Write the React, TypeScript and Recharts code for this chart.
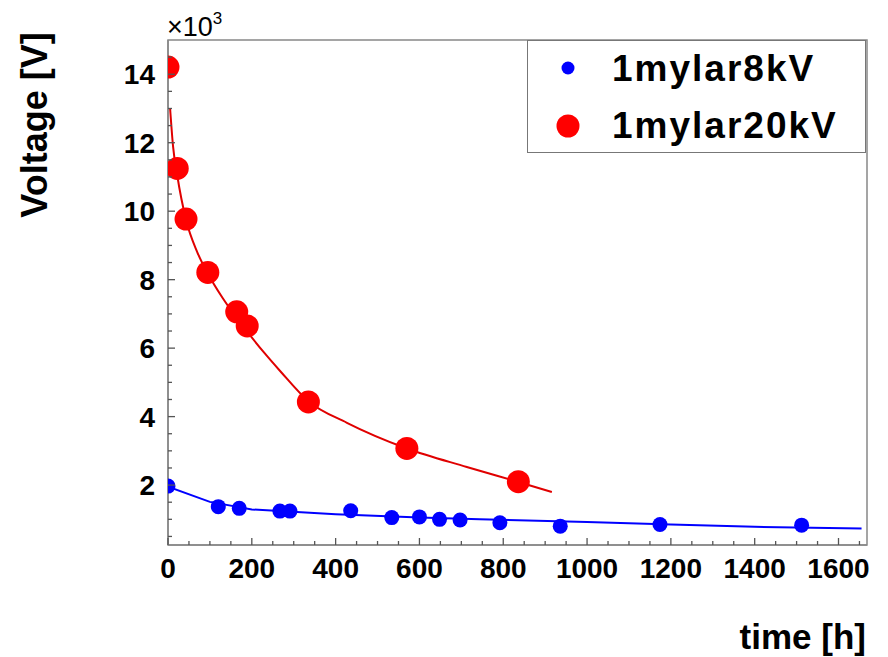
import { ComposedChart, Scatter, Line, XAxis, YAxis, ReferenceArea, Legend } from 'recharts';

// measured points
const blueTime = [0, 120, 170, 267, 291, 436, 534, 600, 648, 697, 792, 936, 1174, 1512];
const blueVolt = [1970, 1370, 1320, 1240, 1240, 1250, 1050, 1070, 1000, 980, 900, 800, 850, 830];
const redTime = [0, 22, 43, 95, 164, 189, 335, 570, 836];
const redVolt = [14210, 11250, 9770, 8210, 7060, 6650, 4430, 3070, 2100];

// fitted curves
const blueFitTime = [0, 100, 200, 400, 600, 744, 1000, 1200, 1400, 1655];
const blueFitVolt = [1950, 1510, 1290, 1150, 1050, 1000, 920, 850, 780, 730];
const redFitTime = [5, 12, 22, 43, 70, 95, 130, 164, 189, 230, 267, 335, 427, 570, 713, 836, 916];
const redFitVolt = [13000, 11900, 11050, 9750, 8800, 8180, 7470, 6880, 6480, 5860, 5340, 4450, 3820, 3070, 2530, 2090, 1800];

const xTicks = Array.from({ length: 34 }, (_, i) => i * 50);
const yTicks = Array.from({ length: 29 }, (_, i) => 500 + i * 500);

const zip = (t: number[], v: number[]) => t.map((x, i) => ({ t: x, v: v[i] }));
const bluePts = zip(blueTime, blueVolt);
const redPts = zip(redTime, redVolt);
const blueFit = zip(blueFitTime, blueFitVolt);
const redFit = zip(redFitTime, redFitVolt);

const font = '"Liberation Sans", Arial, Helvetica, sans-serif';

const XTick = ({ x, y, payload }: any) => {
  const v = payload.value;
  const major = v % 200 === 0;
  return (
    <g>
      <line x1={x} x2={x} y1={y} y2={y - (major ? 7 : 4)} stroke="#555" strokeWidth={1.3} />
      {major && (
        <text x={x} y={y + 33} textAnchor="middle" fontSize={28} fontWeight="bold" fill="#000">{v}</text>
      )}
    </g>
  );
};

const YTick = ({ x, y, payload }: any) => {
  const v = payload.value;
  const major = v % 2000 === 0;
  return (
    <g>
      <line x1={x} x2={x + (major ? 7 : 4)} y1={y} y2={y} stroke="#555" strokeWidth={1.3} />
      {major && (
        <text x={x - 13} y={y + 10} textAnchor="end" fontSize={28} fontWeight="bold" fill="#000">{v / 1000}</text>
      )}
    </g>
  );
};

const LegendBox = () => (
  <div style={{ width: 339, height: 113, border: '1.5px solid #777', boxSizing: 'border-box', background: '#fff' }}>
    <svg width={336} height={110} style={{ fontFamily: font }}>
      <circle cx={40} cy={27} r={6.5} fill="#0000ff" />
      <text x={84} y={40} fontSize={37} fontWeight="bold" letterSpacing={2} fill="#000">1mylar8kV</text>
      <circle cx={40} cy={85} r={11.5} fill="#ff0000" />
      <text x={84} y={97} fontSize={37} fontWeight="bold" letterSpacing={2} fill="#000">1mylar20kV</text>
    </svg>
  </div>
);

export default function App() {
  return (
    <div style={{ position: 'absolute', left: 0, top: 0, width: 888, height: 657, background: '#fff', fontFamily: font }}>
      <ComposedChart width={888} height={657} margin={{ top: 40, right: 21, left: 108, bottom: 82 }} style={{ fontFamily: font }}>
        <XAxis
          dataKey="t"
          type="number"
          domain={[0, 1668]}
          allowDataOverflow
          ticks={xTicks}
          interval={0}
          tick={<XTick />}
          tickLine={false}
          tickSize={0}
          tickMargin={0}
          height={30}
          axisLine={{ stroke: '#888', strokeWidth: 1.5 }}
        />
        <YAxis
          dataKey="v"
          type="number"
          domain={[250, 15000]}
          allowDataOverflow
          ticks={yTicks}
          interval={0}
          tick={<YTick />}
          tickLine={false}
          tickSize={0}
          tickMargin={0}
          width={60}
          axisLine={{ stroke: '#888', strokeWidth: 1.5 }}
        />
        <ReferenceArea x1={0} x2={1668} y1={250} y2={15000} fill="none" stroke="#888" strokeWidth={1.5} />
        <Line data={blueFit} dataKey="v" type="linear" stroke="#0000ff" strokeWidth={2} dot={false} isAnimationActive={false} legendType="none" />
        <Scatter
          data={bluePts}
          dataKey="v"
          name="1mylar8kV"
          isAnimationActive={false}
          shape={(p: any) => <circle cx={p.cx} cy={p.cy} r={7.5} fill="#0000ff" />}
        />
        <Line data={redFit} dataKey="v" type="monotone" stroke="#e00000" strokeWidth={2} dot={false} isAnimationActive={false} legendType="none" />
        <Scatter
          data={redPts}
          dataKey="v"
          name="1mylar20kV"
          isAnimationActive={false}
          shape={(p: any) => <circle cx={p.cx} cy={p.cy} r={11.5} fill="#ff0000" />}
        />
        <Legend
          layout="vertical"
          align="center"
          verticalAlign="middle"
          content={<LegendBox />}
          wrapperStyle={{ left: 527, top: 40, width: 339, height: 113 }}
        />
        <text x={167} y={36} fontSize={27} fill="#000" fontFamily={font}>
          ×10<tspan fontSize={17} dy={-12}>3</tspan>
        </text>
        <text x={47} y={125} transform="rotate(-90 47 125)" textAnchor="middle" fontSize={36} fontWeight="bold" fill="#000" fontFamily={font}>
          Voltage [V]
        </text>
        <text x={866} y={649} textAnchor="end" fontSize={35} fontWeight="bold" fill="#000" fontFamily={font}>
          time [h]
        </text>
      </ComposedChart>
    </div>
  );
}
